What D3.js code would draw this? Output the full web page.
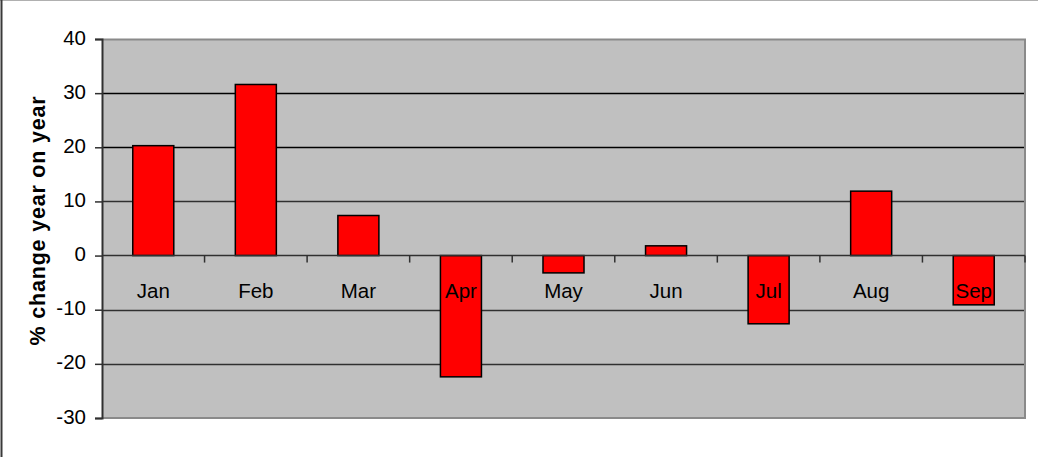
<!DOCTYPE html>
<html>
<head>
<meta charset="utf-8">
<script src="https://cdn.jsdelivr.net/npm/d3@7"></script>
<style>
  html, body { margin: 0; padding: 0; background: #fff; }
  svg { display: block; }
  text { font-family: "Liberation Sans", Arial, sans-serif; fill: #000; }
</style>
</head>
<body>
<svg id="chart" width="1038" height="457"></svg>
<script>
// Monthly % change year on year
const months = ["Jan", "Feb", "Mar", "Apr", "May", "Jun", "Jul", "Aug", "Sep"];
const changes = [20.3, 31.6, 7.4, -22.4, -3.2, 1.8, -12.6, 11.9, -9.1];
const yTicks = [-30, -20, -10, 0, 10, 20, 30, 40];
const yTitle = "% change year on year";

const W = 1038, H = 457;
const plot = { left: 102, right: 1025, top: 39, bottom: 418 };

const svg = d3.select("#chart");

// outer frame (top and left edges)
svg.append("line").attr("x1", 0).attr("x2", W).attr("y1", 0.5).attr("y2", 0.5)
  .attr("stroke", "#b0b0b0").attr("stroke-width", 1);
svg.append("line").attr("x1", 1.5).attr("x2", 1.5).attr("y1", 0).attr("y2", H)
  .attr("stroke", "#3a3a3a").attr("stroke-width", 2);

const x = d3.scaleBand().domain(months).range([plot.left, plot.right]).paddingInner(0).paddingOuter(0);
const y = d3.scaleLinear().domain([-30, 40]).range([plot.bottom, plot.top]);

// plot background
svg.append("rect")
  .attr("x", plot.left).attr("y", plot.top)
  .attr("width", plot.right - plot.left).attr("height", plot.bottom - plot.top)
  .attr("fill", "#c0c0c0");

// horizontal gridlines
svg.append("g").selectAll("line")
  .data(yTicks.filter(v => v !== -30 && v !== 40 && v !== 0))
  .join("line")
  .attr("x1", plot.left).attr("x2", plot.right)
  .attr("y1", d => Math.round(y(d)) + 0.5).attr("y2", d => Math.round(y(d)) + 0.5)
  .attr("stroke", d => d >= 20 ? "#000" : "#303030").attr("stroke-width", 1.3);

// plot border (top, right, bottom)
svg.append("path")
  .attr("d", `M${plot.left},${plot.top + 0.5} H${plot.right} V${plot.bottom} H${plot.left}`)
  .attr("fill", "none").attr("stroke", "#8a8a8a").attr("stroke-width", 2);

// bars
const bw = x.step() / 2.5;
svg.append("g").selectAll("rect")
  .data(months.map((m, i) => ({ m, v: changes[i] })))
  .join("rect")
  .attr("x", d => x(d.m) + (x.step() - bw) / 2)
  .attr("y", d => y(Math.max(0, d.v)))
  .attr("width", bw)
  .attr("height", d => Math.abs(y(d.v) - y(0)))
  .attr("fill", "#ff0000")
  .attr("stroke", "#000").attr("stroke-width", 1.5);

// zero line with category ticks
svg.append("line")
  .attr("x1", plot.left).attr("x2", plot.right)
  .attr("y1", y(0)).attr("y2", y(0))
  .attr("stroke", "#303030").attr("stroke-width", 1.5);
const boundaries = months.map(m => x(m) + x.step());
svg.append("g").selectAll("line")
  .data(boundaries)
  .join("line")
  .attr("x1", d => d).attr("x2", d => d)
  .attr("y1", y(0)).attr("y2", y(0) + 7)
  .attr("stroke", "#303030").attr("stroke-width", 1.5);

// category labels
svg.append("g").selectAll("text")
  .data(months)
  .join("text")
  .attr("x", d => x(d) + x.step() / 2)
  .attr("y", y(0) + 42)
  .attr("text-anchor", "middle")
  .attr("font-size", 20.5)
  .text(d => d);

// y axis (plain hyphen for negatives)
const yAxis = d3.axisLeft(y).tickValues(yTicks).tickSize(7).tickPadding(9).tickFormat(d => String(d));
const yg = svg.append("g").attr("transform", `translate(${plot.left},0)`).call(yAxis);
yg.select(".domain").attr("stroke", "#303030").attr("stroke-width", 2);
yg.selectAll(".tick line").attr("stroke", "#303030").attr("stroke-width", 1.5);
yg.selectAll(".tick text")
  .attr("font-size", 20.5)
  .attr("font-family", "Liberation Sans, Arial, sans-serif")
  .attr("fill", "#000")
  .attr("dy", "0.25em");

// y axis title
svg.append("text")
  .attr("transform", `translate(45, ${(plot.top + plot.bottom) / 2 - 8}) rotate(-90)`)
  .attr("text-anchor", "middle")
  .attr("font-size", 21.5)
  .attr("font-weight", "bold")
  .attr("letter-spacing", 0.8)
  .text(yTitle);
</script>
</body>
</html>
